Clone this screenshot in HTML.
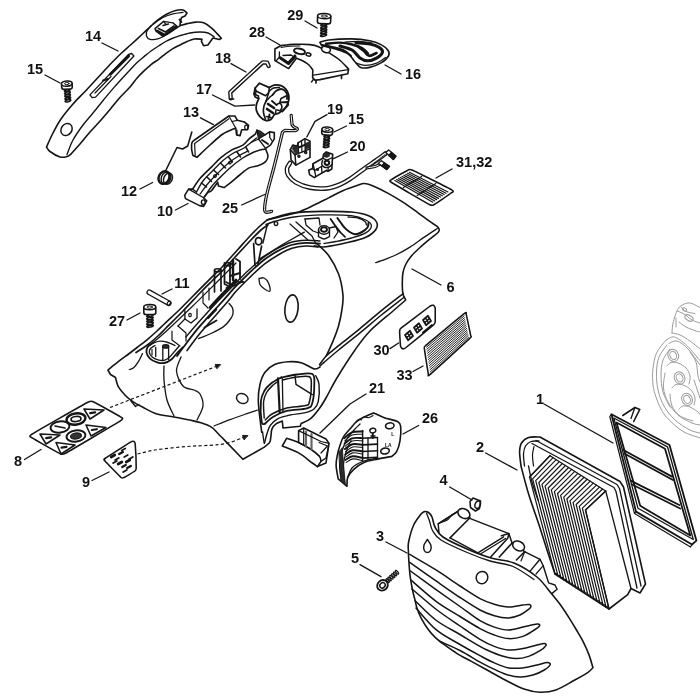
<!DOCTYPE html>
<html><head><meta charset="utf-8"><title>Parts diagram</title>
<style>
html,body{margin:0;padding:0;background:#fff;}
body{width:700px;height:700px;overflow:hidden;}
svg{display:block;will-change:transform;-webkit-font-smoothing:antialiased;}
svg text{font-family:"Liberation Sans",sans-serif;font-weight:bold;font-size:14.5px;fill:#111;stroke:none;}
</style></head><body>
<svg width="700" height="700" viewBox="0 0 700 700" fill="none" stroke="#151515" stroke-width="1.6" stroke-linecap="round" stroke-linejoin="round">
<rect x="0" y="0" width="700" height="700" fill="#fff" stroke="none"/>
<g stroke="#9c9c9c" stroke-width="1">
<path d="M674.3,318C674.75,316.83 675.93,313 677,311C678.07,309 678.65,307.35 680.7,306C682.75,304.65 686.25,302.73 689.3,302.9C692.35,303.07 697.22,306.15 699,307C700.78,307.85 699.83,307.83 700,308"/>
<path d="M674.3,318C674,319.33 672.88,323.5 672.5,326C672.12,328.5 672.08,331.83 672,333"/>
<path d="M677,311C678.17,311.5 681.5,312.5 684,314C686.5,315.5 689.33,318.5 692,320C694.67,321.5 698.67,322.5 700,323"/>
<path d="M681,307C681.83,307.75 683.67,310.42 686,311.5C688.33,312.58 693.5,313.17 695,313.5"/>
<ellipse cx="689" cy="318" rx="4.5" ry="2.6" transform="rotate(30 689 318)"/>
<ellipse cx="684.5" cy="309.5" rx="2.2" ry="1.5" transform="rotate(25 684.5 309.5)"/>
<path d="M679,322C680.17,322.83 683.17,325.5 686,327C688.83,328.5 693.67,330.17 696,331C698.33,331.83 699.33,331.83 700,332"/>
<path d="M672,333C673.33,333.33 677,333.67 680,335C683,336.33 686.67,338.67 690,341C693.33,343.33 698.33,347.67 700,349"/>
<path d="M676,318L676,327"/>
<path d="M665.7,340.4C664.17,342.5 658.63,348.18 656.5,353C654.37,357.82 653.48,363.97 652.9,369.3C652.32,374.63 652.48,380.38 653,385C653.52,389.62 654.67,393 656,397C657.33,401 659.02,405.4 661,409C662.98,412.6 664.25,414.87 667.9,418.6C671.55,422.33 677.55,428.18 682.9,431.4C688.25,434.62 697.15,436.82 700,437.9"/>
<path d="M665.7,340.4C667.13,339.83 670.75,336.12 674.3,337C677.85,337.88 682.72,341.75 687,345.7C691.28,349.65 697.83,358.2 700,360.7"/>
<path d="M669,343.5C670.33,343.08 673.83,340.08 677,341C680.17,341.92 684.17,345 688,349C691.83,353 698,362.33 700,365"/>
<path d="M667,345C665.67,347 660.75,352.5 659,357C657.25,361.5 656.67,366.5 656.5,372C656.33,377.5 656.75,384.33 658,390C659.25,395.67 661.17,401 664,406C666.83,411 670.67,416 675,420C679.33,424 685.83,427.83 690,430C694.17,432.17 698.33,432.5 700,433"/>
<path d="M670,349C668.83,350.83 664.5,355.67 663,360C661.5,364.33 661,369.67 661,375C661,380.33 661.5,386.67 663,392C664.5,397.33 668.83,404.5 670,407"/>
<path d="M667,366C667.67,365.42 669.17,363 671,362.5C672.83,362 675.5,362.08 678,363C680.5,363.92 684,365.83 686,368C688,370.17 689.5,373.33 690,376C690.5,378.67 689.17,382.67 689,384"/>
<path d="M665,373C664.75,375.5 663,383.17 663.5,388C664,392.83 665.58,397.5 668,402C670.42,406.5 674,411.5 678,415C682,418.5 688.33,421.33 692,423C695.67,424.67 698.67,424.67 700,425"/>
<path d="M672,388C672.67,387.42 674.17,385 676,384.5C677.83,384 680.5,384.08 683,385C685.5,385.92 689,387.83 691,390C693,392.17 694.5,395.5 695,398C695.5,400.5 694.17,403.83 694,405"/>
<path d="M670,394C670.33,396 670.33,402.33 672,406C673.67,409.67 676.5,413.5 680,416C683.5,418.5 690.83,420.17 693,421"/>
<path d="M679,409C679.67,408.5 681.17,406.33 683,406C684.83,405.67 687.5,406 690,407C692.5,408 696.33,410.67 698,412C699.67,413.33 699.67,414.5 700,415"/>
<path d="M690,352C691,353.67 694.67,358 696,362C697.33,366 697.33,372.67 698,376C698.67,379.33 699.67,381 700,382"/>
<path d="M694,380C694.67,382 697,389 698,392C699,395 699.67,397 700,398"/>
<ellipse cx="673.2" cy="355.4" rx="5.2" ry="6.3" transform="rotate(-25 673.2 355.4)"/>
<ellipse cx="673.2" cy="355.4" rx="3.2" ry="4.2" transform="rotate(-25 673.2 355.4)"/>
<ellipse cx="679.6" cy="377.9" rx="5.2" ry="6.3" transform="rotate(-25 679.6 377.9)"/>
<ellipse cx="679.6" cy="377.9" rx="3.2" ry="4.2" transform="rotate(-25 679.6 377.9)"/>
<ellipse cx="687" cy="399.3" rx="5.2" ry="6.3" transform="rotate(-25 687 399.3)"/>
<ellipse cx="687" cy="399.3" rx="3.2" ry="4.2" transform="rotate(-25 687 399.3)"/>
</g>
<path d="M46.5,147C47.58,144.67 50.58,137.67 53,133C55.42,128.33 57.67,123.83 61,119C64.33,114.17 68.83,108.75 73,104C77.17,99.25 81.75,95 86,90.5C90.25,86 94.5,81.33 98.5,77C102.5,72.67 106.25,68.42 110,64.5C113.75,60.58 117.58,56.75 121,53.5C124.42,50.25 126.83,48.33 130.5,45C134.17,41.67 139.58,36.67 143,33.5C146.42,30.33 148.4,28.33 151,26C153.6,23.67 155.93,21.5 158.6,19.5C161.27,17.5 164.15,15.5 167,14C169.85,12.5 173.03,11.17 175.7,10.5C178.37,9.83 181.12,9.58 183,10C184.88,10.42 186.33,12.5 187,13L187,13L185,16L181.5,17.5L180.5,21L180,25.7L180,25.7C181.18,25.35 184.48,24.2 187.1,23.6C189.72,23 192.83,22.22 195.7,22.1C198.57,21.98 201.68,21.93 204.3,22.9C206.92,23.87 209.27,26.12 211.4,27.9C213.53,29.68 215.43,31.87 217.1,33.6C218.77,35.33 220.68,37.52 221.4,38.3L221.4,38.3L219.3,39.5L212.9,38L212.9,38L207.9,45L203.6,45.7L201.4,41.4L202,39.3L202,39.3C200.72,39.25 196.8,38.63 194.3,39C191.8,39.37 189.38,40.5 187,41.5C184.62,42.5 182.35,43.82 180,45C177.65,46.18 175.28,47.17 172.9,48.6C170.52,50.03 168.08,51.82 165.7,53.6C163.32,55.38 160.98,57.52 158.6,59.3C156.22,61.08 153.78,62.4 151.4,64.3C149.02,66.2 146.68,68.42 144.3,70.7C141.92,72.98 139.48,75.28 137.1,78C134.72,80.72 132.93,83.67 130,87C127.07,90.33 122.83,94.25 119.5,98C116.17,101.75 113.08,105.83 110,109.5C106.92,113.17 104.33,116.25 101,120C97.67,123.75 93.5,128 90,132C86.5,136 83.17,140.33 80,144C76.83,147.67 72.5,152.33 71,154L71,154C70.33,154.42 68.83,156 67,156.5C65.17,157 62.83,157.83 60,157C57.17,156.17 52.25,153.17 50,151.5C47.75,149.83 47.08,147.75 46.5,147Z" fill="#fff"/>
<path d="M67,154.5C68,152.08 70.33,144.92 73,140C75.67,135.08 79.67,129.5 83,125C86.33,120.5 89.58,117.17 93,113C96.42,108.83 99.95,104.32 103.5,100C107.05,95.68 110.05,91.93 114.3,87.1C118.55,82.27 125.2,75.1 129,71C132.8,66.9 134.55,64.93 137.1,62.5C139.65,60.07 141.92,58.37 144.3,56.4C146.68,54.43 149.02,52.43 151.4,50.7C153.78,48.97 156.22,47.53 158.6,46C160.98,44.47 163.47,42.75 165.7,41.5C167.93,40.25 169.62,39.47 172,38.5C174.38,37.53 177,36.62 180,35.7C183,34.78 186.67,33.62 190,33C193.33,32.38 197,32 200,32C203,32 205.62,32.17 208,33C210.38,33.83 213.25,36.33 214.3,37" stroke-width="1.38"/>
<path d="M151.4,25.5C150.68,26.37 147.93,29 147.1,30.7C146.27,32.4 145.92,34.27 146.4,35.7C146.88,37.13 147.97,38.82 150,39.3C152.03,39.78 155.75,39.43 158.6,38.6C161.45,37.77 164.25,35.97 167.1,34.3C169.95,32.63 173.55,30.03 175.7,28.6C177.85,27.17 179.28,26.18 180,25.7" stroke-width="1.38"/>
<path d="M153,24C154.67,22.92 159.68,19.2 163,17.5C166.32,15.8 169.57,14.67 172.9,13.8C176.23,12.93 181.32,12.55 183,12.3" stroke-width="1.32"/>
<path d="M155,28.6L163.6,21.4L172.9,22.9L177.1,26.4L165.7,34.3L162.9,36.4L155.7,30.7Z" fill="#fff" stroke-width="1.44"/>
<path d="M157,31L164.5,35L176,27" stroke-width="2.64"/>
<path d="M158.5,28.5L165.5,32L174,26" stroke-width="1.68"/>
<path d="M163,25.5L168.5,24" stroke-width="1.44"/>
<path d="M163.6,21.4L165.7,24" stroke-width="1.2"/>
<path d="M179.5,19.5L181.4,22" stroke-width="1.92"/>
<path d="M89.9,94.9L128.7,54.3L131.6,53.5L133.9,56L95.6,97.1L92.1,97.7Z" stroke-width="1.32"/>
<path d="M110.4,74.3L128.7,56" stroke-width="2.88"/>
<path d="M95,93L111,76.5" stroke-width="1.2"/>
<path d="M103,80.5L108,79" stroke-width="1.92"/>
<ellipse cx="66.5" cy="129.5" rx="5.3" ry="6.4" stroke-width="1.5" transform="rotate(35 66.5 129.5)"/>
<g transform="rotate(-4 66.6 81)">
<ellipse cx="66.6" cy="90.4" rx="2.9" ry="1" fill="#fff" stroke-width="1.62" transform="rotate(-12 66.6 90.4)"/>
<ellipse cx="66.6" cy="93" rx="2.9" ry="1" fill="#fff" stroke-width="1.62" transform="rotate(-12 66.6 93)"/>
<ellipse cx="66.6" cy="95.6" rx="2.9" ry="1" fill="#fff" stroke-width="1.62" transform="rotate(-12 66.6 95.6)"/>
<ellipse cx="66.6" cy="98.2" rx="2.9" ry="1" fill="#fff" stroke-width="1.62" transform="rotate(-12 66.6 98.2)"/>
<ellipse cx="66.6" cy="100.8" rx="2.9" ry="1" fill="#fff" stroke-width="1.62" transform="rotate(-12 66.6 100.8)"/>
<rect x="61.3" y="82.5" width="10.6" height="6.7" rx="2.2" fill="#fff"/>
<ellipse cx="66.6" cy="83.6" rx="5.3" ry="2.6" fill="#fff"/>
<ellipse cx="66.6" cy="83.6" rx="2.38" ry="1.1" stroke-width="0.96"/>
</g>
<g transform="rotate(4 327.5 127)">
<ellipse cx="327.5" cy="136.2" rx="2.9" ry="1" fill="#fff" stroke-width="1.62" transform="rotate(-12 327.5 136.2)"/>
<ellipse cx="327.5" cy="138.8" rx="2.9" ry="1" fill="#fff" stroke-width="1.62" transform="rotate(-12 327.5 138.8)"/>
<ellipse cx="327.5" cy="141.4" rx="2.9" ry="1" fill="#fff" stroke-width="1.62" transform="rotate(-12 327.5 141.4)"/>
<ellipse cx="327.5" cy="144" rx="2.9" ry="1" fill="#fff" stroke-width="1.62" transform="rotate(-12 327.5 144)"/>
<ellipse cx="327.5" cy="146.6" rx="2.9" ry="1" fill="#fff" stroke-width="1.62" transform="rotate(-12 327.5 146.6)"/>
<rect x="322.1" y="128.5" width="10.8" height="6.5" rx="2.2" fill="#fff"/>
<ellipse cx="327.5" cy="129.6" rx="5.4" ry="2.6" fill="#fff"/>
<ellipse cx="327.5" cy="129.6" rx="2.43" ry="1.1" stroke-width="0.96"/>
</g>
<g transform="rotate(2 324.3 13.5)">
<ellipse cx="324.3" cy="24.9" rx="3.1" ry="1" fill="#fff" stroke-width="1.62" transform="rotate(-12 324.3 24.9)"/>
<ellipse cx="324.3" cy="27.5" rx="3.1" ry="1" fill="#fff" stroke-width="1.62" transform="rotate(-12 324.3 27.5)"/>
<ellipse cx="324.3" cy="30.1" rx="3.1" ry="1" fill="#fff" stroke-width="1.62" transform="rotate(-12 324.3 30.1)"/>
<ellipse cx="324.3" cy="32.7" rx="3.1" ry="1" fill="#fff" stroke-width="1.62" transform="rotate(-12 324.3 32.7)"/>
<ellipse cx="324.3" cy="35.3" rx="3.1" ry="1" fill="#fff" stroke-width="1.62" transform="rotate(-12 324.3 35.3)"/>
<rect x="317.7" y="15" width="13.2" height="8.7" rx="2.2" fill="#fff"/>
<ellipse cx="324.3" cy="16.1" rx="6.6" ry="2.6" fill="#fff"/>
<ellipse cx="324.3" cy="16.1" rx="2.97" ry="1.1" stroke-width="0.96"/>
</g>
<g transform="rotate(-1 149.7 304.5)">
<ellipse cx="149.7" cy="315.7" rx="3.3" ry="1" fill="#fff" stroke-width="1.62" transform="rotate(-12 149.7 315.7)"/>
<ellipse cx="149.7" cy="318.3" rx="3.3" ry="1" fill="#fff" stroke-width="1.62" transform="rotate(-12 149.7 318.3)"/>
<ellipse cx="149.7" cy="320.9" rx="3.3" ry="1" fill="#fff" stroke-width="1.62" transform="rotate(-12 149.7 320.9)"/>
<ellipse cx="149.7" cy="323.5" rx="3.3" ry="1" fill="#fff" stroke-width="1.62" transform="rotate(-12 149.7 323.5)"/>
<ellipse cx="149.7" cy="326.1" rx="3.3" ry="1" fill="#fff" stroke-width="1.62" transform="rotate(-12 149.7 326.1)"/>
<rect x="143.7" y="306" width="12" height="8.5" rx="2.2" fill="#fff"/>
<ellipse cx="149.7" cy="307.1" rx="6" ry="2.6" fill="#fff"/>
<ellipse cx="149.7" cy="307.1" rx="2.7" ry="1.1" stroke-width="0.96"/>
</g>
<path d="M274.9,49L280.6,45.7L280.6,45.7C282.83,45.48 289.1,44.58 294,44.4C298.9,44.22 305.83,44.18 310,44.6C314.17,45.02 315.9,45.57 319,46.9C322.1,48.23 325.27,50.5 328.6,52.6C331.93,54.7 335.67,56.77 339,59.5C342.33,62.23 347,67.42 348.6,69L348.6,69L347.8,73.8L320,79.6L315,80.3L312.6,77.6L312.8,70L312.8,70C312.17,69.17 310.63,66.5 309,65C307.37,63.5 305.07,62.12 303,61C300.93,59.88 297.67,58.75 296.6,58.3L296.6,58L288.6,68.6L274.9,60.6Z" fill="#fff"/>
<path d="M279.4,52L279.4,57L288,62.5L295,55" stroke-width="1.32"/>
<path d="M279.4,57L276.5,60.5" stroke-width="1.2"/>
<path d="M280.5,58L288.5,63.5L295,56.5" stroke-width="3.12"/>
<path d="M283,55.5L291,55L294,57" stroke-width="1.44"/>
<path d="M313.5,75.2L348.2,69.6" stroke-width="1.32"/>
<path d="M316,80L316,83" stroke-width="1.68"/>
<path d="M341.5,75.3L341.5,78.5" stroke-width="1.68"/>
<path d="M313.7,79L311.5,82" stroke-width="1.32"/>
<ellipse cx="299.5" cy="51.3" rx="5.5" ry="2.6" stroke-width="1.92" transform="rotate(12 299.5 51.3)"/>
<ellipse cx="308.5" cy="54.5" rx="2.4" ry="1.6" stroke-width="1.56" transform="rotate(12 308.5 54.5)"/>
<path d="M281,47.5C282.5,47.28 286.83,46.45 290,46.2C293.17,45.95 298.33,46.03 300,46" stroke-width="1.08"/>
<ellipse cx="326" cy="49.5" rx="4.5" ry="3" fill="#fff" transform="rotate(15 326 49.5)"/>
<path d="M319.9,42.3C321.35,41.92 323.35,40.57 328.6,40C333.85,39.43 344.55,38.78 351.4,38.9C358.25,39.02 364.77,39.75 369.7,40.7C374.63,41.65 377.95,43 381,44.6C384.05,46.2 386.75,48.4 388,50.3C389.25,52.2 389.67,53.9 388.5,56C387.33,58.1 384.13,61 381,62.9C377.87,64.8 373.1,66.65 369.7,67.4C366.3,68.15 363.07,68.35 360.6,67.4C358.13,66.45 357,63.98 354.9,61.7C352.8,59.42 351.25,55.82 348,53.7C344.75,51.58 339.78,50.33 335.4,49C331.02,47.67 323.98,46.25 321.7,45.7Z" fill="#fff"/>
<path d="M340,46C342,46.67 348.67,48 352,50C355.33,52 357.43,56.2 360,58C362.57,59.8 364.57,60.83 367.4,60.8C370.23,60.77 374.48,59.27 377,57.8C379.52,56.33 382.17,53.75 382.5,52C382.83,50.25 381.08,48.63 379,47.3C376.92,45.97 373.83,44.75 370,44C366.17,43.25 358.33,43 356,42.8" stroke-width="3.12"/>
<path d="M326,43.8C328.33,43.6 335.67,42.48 340,42.6C344.33,42.72 348.33,43.6 352,44.5C355.67,45.4 359.33,46.5 362,48C364.67,49.5 367,52.58 368,53.5" stroke-width="2.4"/>
<path d="M358,46.5C359,47.25 362.17,49.45 364,51C365.83,52.55 366.92,55.47 369,55.8C371.08,56.13 375.25,53.47 376.5,53" stroke-width="2.64"/>
<path d="M356,63C357.5,63.38 361.67,65.25 365,65.3C368.33,65.35 372.58,64.6 376,63.3C379.42,62 383.92,58.47 385.5,57.5" stroke-width="1.32"/>
<path d="M322,45C323.5,45.28 327.5,45.87 331,46.7C334.5,47.53 339.67,48.45 343,50C346.33,51.55 349.67,55 351,56" stroke-width="2.16"/>
<path d="M345,42C347.5,41.92 355.5,41.33 360,41.5C364.5,41.67 370,42.75 372,43" stroke-width="1.2"/>
<path d="M230.7,98.3L230.3,92.3L262.9,62.3L267.1,62.6L268.6,66" stroke-width="4.32"/>
<path d="M230.7,98.3L230.3,92.3L262.9,62.3L267.1,62.6L268.6,66" stroke-width="1.56" stroke="#fff"/>
<path d="M229.5,99L233.8,99" stroke-width="1.44"/>
<path d="M269.4,87.6C270.17,87.2 272.18,85.57 274,85.2C275.82,84.83 278.33,84.75 280.3,85.4C282.27,86.05 284.42,87.57 285.8,89.1C287.18,90.63 288.17,92.5 288.6,94.6C289.03,96.7 289,99.47 288.4,101.7C287.8,103.93 286.57,106.12 285,108C283.43,109.88 280.75,111.95 279,113C277.25,114.05 275.25,114.08 274.5,114.3L274.5,114.3C273.9,115.15 272.42,118.38 270.9,119.4C269.38,120.42 267.23,120.87 265.4,120.4C263.57,119.93 261.37,118.15 259.9,116.6C258.43,115.05 257.18,113.05 256.6,111.1C256.02,109.15 256.05,106.98 256.4,104.9C256.75,102.82 258.32,99.65 258.7,98.6L258.7,98.6L255.2,97L254,93.9L255.2,88L259.5,83.2L269.4,87.6Z" fill="#fff" stroke-width="1.8"/>
<path d="M272.5,95C273.15,94.28 274.83,91.68 276.4,90.7C277.97,89.72 280.2,88.72 281.9,89.1C283.6,89.48 285.75,91.35 286.6,93C287.45,94.65 286.93,98 287,99" stroke-width="1.8"/>
<path d="M269,91.5C269.75,90.92 271.75,88.67 273.5,88C275.25,87.33 278.5,87.58 279.5,87.5" stroke-width="1.44"/>
<path d="M255.2,88L256,91L265.5,95.8L268.6,92.7L269.4,87.6" stroke-width="1.56"/>
<path d="M268.6,92.7L266.2,100.9" stroke-width="1.56"/>
<path d="M254,93.9L258.5,96L258.7,98.6" stroke-width="1.44"/>
<path d="M256,91L255.5,94.5" stroke-width="1.44"/>
<path d="M266.2,100.9C265.82,101.82 264.35,104.43 263.9,106.4C263.45,108.37 263.25,110.6 263.5,112.7C263.75,114.8 265.08,117.95 265.4,119" stroke-width="1.68"/>
<path d="M266.2,100.9C266.83,100.25 268.95,97.98 270,97C271.05,96.02 272.08,95.33 272.5,95" stroke-width="1.56"/>
<path d="M268,104L274,108" stroke-width="2.64"/>
<path d="M267,109L273,113" stroke-width="2.64"/>
<path d="M269.5,114.5L268.5,119" stroke-width="1.92"/>
<path d="M272,101L276.4,104.9" stroke-width="1.92"/>
<path d="M266.5,116.5L271,117.5" stroke-width="1.68"/>
<path d="M276.4,104.9C276.93,104.63 278.68,103.05 279.6,103.3C280.52,103.55 281.78,105.22 281.9,106.4C282.02,107.58 281.03,109.8 280.3,110.4C279.57,111 277.97,110.07 277.5,110" stroke-width="1.68"/>
<path d="M280.5,102.3L287.8,102L288.2,104.9L282.5,111.5" stroke-width="1.8"/>
<path d="M279.6,103.3L281,98.5L286,96" stroke-width="1.56"/>
<path d="M276,109.5L275.6,113" stroke-width="1.56"/>
<path d="M192.9,155.4C192.68,154.33 191.75,151.13 191.6,149C191.45,146.87 191.52,144.1 192,142.6C192.48,141.1 194.08,140.43 194.5,140L194.5,140L228.9,116L234.9,116L237.4,120.3L244.3,122L248.6,125.4L247.7,129.7L241.7,129.7L240,135.7L236.6,134.9L235.7,128L235.7,128C233.57,129 227.18,131.17 222.9,134C218.62,136.83 214.32,141.12 210,145C205.68,148.88 199.17,155.25 197,157.3L197,157.3L192.9,155.4Z" fill="#fff"/>
<path d="M195.2,155.5L194.6,143.4L228.9,118.8" stroke-width="1.2"/>
<path d="M228.9,116L232,121.5L237.4,120.3" stroke-width="1.2"/>
<path d="M232,121.5L235.7,128" stroke-width="1.2"/>
<ellipse cx="246.3" cy="127.3" rx="1.6" ry="2.2" stroke-width="1.2"/>
<path d="M237,134.5L237,130" stroke-width="1.2"/>
<path d="M191.8,132L187.7,146L182.6,149L177,147.5L165.5,171" stroke-width="1.56"/>
<ellipse cx="164" cy="177.5" rx="5.2" ry="6.6" stroke-width="2.4" transform="rotate(25 164 177.5)"/>
<ellipse cx="166" cy="178" rx="4.6" ry="6.2" stroke-width="1.44" transform="rotate(25 166 178)"/>
<ellipse cx="168" cy="178.6" rx="4.2" ry="5.8" stroke-width="1.44" transform="rotate(25 168 178.6)"/>
<path d="M188.6,189.1L184.7,195.4L185.5,198.6L199.6,205.6L203.6,206.4L206.7,200.9L203.6,197.8L203.6,197.8C204.33,196.92 206.7,193.68 208,192.5C209.3,191.32 209.78,192.43 211.4,190.7C213.02,188.97 216.65,183.53 217.7,182.1L217.7,182.1L218.5,186L224,187.6L224,187.6C225.05,186.82 227.68,185 230.3,182.9C232.92,180.8 236.57,177.5 239.7,175C242.83,172.5 245.95,169.47 249.1,167.9C252.25,166.33 255.85,166.65 258.6,165.6C261.35,164.55 264.03,163.18 265.6,161.6C267.17,160.02 268,158.18 268,156.1C268,154.02 266,150.27 265.6,149.1L265.6,148.3L270.4,145.1L274.3,138.9L274.3,132.6L269.6,131.8L264.9,134.9L260.9,131.8L257,130.2L255.4,134.1L255.4,134.1C254.35,134.9 251.18,137.07 249.1,138.9C247.02,140.73 245.77,143.27 242.9,145.1C240.03,146.93 235.57,147.8 231.9,149.9C228.23,152 224.32,154.83 220.9,157.7C217.48,160.57 214.82,163.7 211.4,167.1C207.98,170.5 203.53,174.43 200.4,178.1C197.27,181.77 193.9,187.27 192.6,189.1Z" fill="#fff"/>
<path d="M188.6,189.1L203.6,197.8" stroke-width="1.32"/>
<path d="M192.6,189.1L196.5,192" stroke-width="1.32"/>
<ellipse cx="203.3" cy="202.2" rx="1.9" ry="2.3" stroke-width="1.44"/>
<path d="M196.5,192C197.58,190.17 200.17,184.67 203,181C205.83,177.33 210.17,173.42 213.5,170C216.83,166.58 219.67,163.33 223,160.5C226.33,157.67 230,155.08 233.5,153C237,150.92 241.08,149.75 244,148C246.92,146.25 248.92,144.17 251,142.5C253.08,140.83 255.58,138.75 256.5,138" stroke-width="1.32"/>
<path d="M205,196C206.17,194.33 209.33,189.25 212,186C214.67,182.75 217.83,179.67 221,176.5C224.17,173.33 227.5,170 231,167C234.5,164 238.5,160.83 242,158.5C245.5,156.17 249,154.42 252,153C255,151.58 257.73,150.65 260,150C262.27,149.35 264.67,149.25 265.6,149.1" stroke-width="1.44"/>
<path d="M200,194C201.33,192.25 205,187 208,183.5C211,180 214.67,176.33 218,173C221.33,169.67 224.58,166.33 228,163.5C231.42,160.67 235.17,158.08 238.5,156C241.83,153.92 246.42,151.83 248,151" stroke-width="1.2"/>
<path d="M201.5,183L206.5,187" stroke-width="1.56"/>
<path d="M207,177L211.5,181.5" stroke-width="1.56"/>
<path d="M213.5,170L218.5,174.5" stroke-width="1.56"/>
<path d="M220.5,163L225.5,168" stroke-width="1.56"/>
<path d="M228.5,157L232.5,162" stroke-width="1.56"/>
<path d="M237,152L240.5,157" stroke-width="1.56"/>
<path d="M246,147.5L248.5,152" stroke-width="1.56"/>
<ellipse cx="215" cy="176" rx="1.6" ry="1.2" stroke-width="1.2" transform="rotate(-40 215 176)"/>
<ellipse cx="230" cy="162.5" rx="1.6" ry="1.2" stroke-width="1.2" transform="rotate(-40 230 162.5)"/>
<path d="M257,130.2L258.5,139L264.9,134.9" stroke-width="1.32"/>
<path d="M258.5,139L265.6,148.3" stroke-width="1.32"/>
<path d="M251,142.5L258.5,139" stroke-width="1.2"/>
<path d="M257.3,130.8L259.2,138.6L263.8,135Z" fill="#222" stroke-width="0.6"/>
<path d="M269.6,131.8L269.8,137.5L272.5,141.5" stroke-width="1.32"/>
<path d="M262,140L268,144" stroke-width="1.92"/>
<path d="M291.2,115.4L292,124.5L292,124.5C292.33,124.92 293.12,126.3 294,127C294.88,127.7 296.97,128.12 297.3,128.7C297.63,129.28 297.05,130.18 296,130.5C294.95,130.82 291.83,130.58 291,130.6L291,130.6L285,130.3L282.5,132L282.5,132C281.17,137.5 277.08,154.77 274.5,165C271.92,175.23 268.65,186.15 267,193.4C265.35,200.65 264.73,205.37 264.6,208.5C264.47,211.63 265.03,211.73 266.2,212.2C267.37,212.67 270.7,211.45 271.6,211.3" stroke-width="3.24"/>
<path d="M291.2,115.4L292,124.5L292,124.5C292.33,124.92 293.12,126.3 294,127C294.88,127.7 296.97,128.12 297.3,128.7C297.63,129.28 297.05,130.18 296,130.5C294.95,130.82 291.83,130.58 291,130.6L291,130.6L285,130.3L282.5,132L282.5,132C281.17,137.5 277.08,154.77 274.5,165C271.92,175.23 268.65,186.15 267,193.4C265.35,200.65 264.73,205.37 264.6,208.5C264.47,211.63 265.03,211.73 266.2,212.2C267.37,212.67 270.7,211.45 271.6,211.3" stroke-width="0.96" stroke="#fff"/>
<path d="M290.3,149.7L292.9,145L297.3,146.2L298,142.9L304.9,138.6L310,141.1L310,157.4L295.9,165.1L291.1,160Z" fill="#fff"/>
<path d="M290.3,149.7L295,154.9L310,148.9" stroke-width="1.44"/>
<path d="M295,154.9L295.9,165.1" stroke-width="1.44"/>
<path d="M298,142.9L298.5,153.3" stroke-width="1.44"/>
<path d="M304.9,138.6L305.3,150.6" stroke-width="1.44"/>
<path d="M301.5,141L302,152" stroke-width="1.2"/>
<path d="M292.2,148.6L294.2,145.6L297.2,146.6L297.8,153.2L295.3,154Z" fill="#2a2a2a" stroke-width="0.6"/>
<path d="M305.8,143.2L309.3,141.8L309.5,147.8L306,149.3Z" fill="#2a2a2a" stroke-width="0.6"/>
<path d="M298.6,147.5L304.8,144.8" stroke-width="1.92"/>
<ellipse cx="298.9" cy="156.3" rx="1" ry="1" stroke-width="1.56"/>
<ellipse cx="305.7" cy="152.5" rx="1" ry="1" stroke-width="1.56"/>
<path d="M308.7,170.3L309.6,174.6L314.3,177.6L315.8,176.6L326.7,170.3L328,171.3L331.8,169L332.7,154.2L326.3,151.9L323.7,154L322.8,158.3L313,163.8L312.6,168.6Z" fill="#fff"/>
<path d="M313,163.8L314.6,170.5L315.8,176.6" stroke-width="1.32"/>
<path d="M312.6,168.6L314.6,170.5" stroke-width="1.32"/>
<path d="M322.8,158.3L327,160.2L332.5,157.5" stroke-width="1.32"/>
<path d="M314.6,170.5L321.5,166.5" stroke-width="1.32"/>
<path d="M321.5,166.5L322,172.8" stroke-width="1.32"/>
<path d="M322.5,160.5C322.38,161.17 321.47,163.38 321.8,164.5C322.13,165.62 323.3,166.78 324.5,167.2C325.7,167.62 327.75,167.45 329,167C330.25,166.55 331.5,164.92 332,164.5" stroke-width="1.44"/>
<ellipse cx="326.9" cy="162.8" rx="2.3" ry="2.1" stroke-width="2.04"/>
<path d="M323.9,154.2L326.3,152.3L329.8,153.6L329.5,156.2L326.8,157.6L323.5,156.6Z" fill="#2a2a2a" stroke-width="0.6"/>
<ellipse cx="317.5" cy="169.5" rx="0.9" ry="0.9" stroke-width="1.32"/>
<path d="M328,171.3L328.2,168" stroke-width="1.2"/>
<path d="M290,163C289.5,163.92 287.25,166.42 287,168.5C286.75,170.58 287,173.17 288.5,175.5C290,177.83 292.42,180.48 296,182.5C299.58,184.52 304.8,186.63 310,187.6C315.2,188.57 322.2,188.82 327.2,188.3C332.2,187.78 336.2,186.05 340,184.5C343.8,182.95 345.72,181.82 350,179C354.28,176.18 361.37,170.68 365.7,167.6C370.03,164.52 372.7,162.85 376,160.5C379.3,158.15 383.92,154.67 385.5,153.5" stroke-width="4.68"/>
<path d="M290,163C289.5,163.92 287.25,166.42 287,168.5C286.75,170.58 287,173.17 288.5,175.5C290,177.83 292.42,180.48 296,182.5C299.58,184.52 304.8,186.63 310,187.6C315.2,188.57 322.2,188.82 327.2,188.3C332.2,187.78 336.2,186.05 340,184.5C343.8,182.95 345.72,181.82 350,179C354.28,176.18 361.37,170.68 365.7,167.6C370.03,164.52 372.7,162.85 376,160.5C379.3,158.15 383.92,154.67 385.5,153.5" stroke-width="2.04" stroke="#fff"/>
<path d="M367,167.8C368.33,167.58 372.67,167.2 375,166.5C377.33,165.8 380,164.08 381,163.6" stroke-width="3.12"/>
<path d="M367,167.8C368.33,167.58 372.67,167.2 375,166.5C377.33,165.8 380,164.08 381,163.6" stroke-width="0.96" stroke="#fff"/>
<path d="M366,168.5C367.67,167.33 372.83,163.83 376,161.5C379.17,159.17 383.5,155.67 385,154.5" stroke-width="0.96"/>
<path d="M385.8,152.6L388.6,150L396,156L393.2,159.5Z" fill="#fff" stroke-width="1.32"/>
<path d="M389.33,155.05L393.62,158.97" stroke-width="1.8"/>
<path d="M390.31,154.01L394.6,157.75" stroke-width="1.8"/>
<path d="M391.29,152.97L395.58,156.53" stroke-width="1.8"/>
<path d="M388.91,155.5L391.71,152.52" stroke-width="1.32"/>
<path d="M378.4,163.4L381.1,160.6L389.5,166.2L386.7,169.6Z" fill="#fff" stroke-width="1.32"/>
<path d="M382.3,165.55L387.12,169.09" stroke-width="1.8"/>
<path d="M383.26,164.48L388.1,167.9" stroke-width="1.8"/>
<path d="M384.22,163.41L389.08,166.71" stroke-width="1.8"/>
<path d="M381.89,166L384.63,162.95" stroke-width="1.32"/>
<path d="M107.9,370C109.68,368.57 115.15,364.07 118.6,361.4C122.05,358.73 125.52,356.32 128.6,354C131.68,351.68 134.03,349.87 137.1,347.5C140.17,345.13 143.68,342.55 147,339.8C150.32,337.05 154.12,333.63 157,331C159.88,328.37 160.22,327.88 164.3,324C168.38,320.12 175.78,313.3 181.5,307.7C187.22,302.1 193.75,295.28 198.6,290.4C203.45,285.52 206.8,282.17 210.6,278.4C214.4,274.63 217,272.45 221.4,267.8C225.8,263.15 232.23,255.8 237,250.5C241.77,245.2 246.17,240.08 250,236C253.83,231.92 257.17,228.67 260,226C262.83,223.33 265.83,221 267,220L267,220C270,219.25 279.5,216.93 285,215.5C290.5,214.07 295.12,213.15 300,211.4C304.88,209.65 309.53,207.25 314.3,205C319.07,202.75 323.83,200.28 328.6,197.9C333.37,195.52 338.15,192.77 342.9,190.7C347.65,188.63 353.53,186.7 357.1,185.5C360.67,184.3 361.43,183.35 364.3,183.5C367.17,183.65 370.25,184.72 374.3,186.4C378.35,188.08 383.83,190.98 388.6,193.6C393.37,196.22 398.15,199.02 402.9,202.1C407.65,205.18 412.82,209 417.1,212.1C421.38,215.2 425.27,218.32 428.6,220.7C431.93,223.08 435.32,224.93 437.1,226.4C438.88,227.87 438.93,228.98 439.3,229.5L439.3,229.5C439.08,230 439.32,231.12 438,232.5C436.68,233.88 434.4,235.3 431.4,237.8C428.4,240.3 423.33,244.47 420,247.5C416.67,250.53 413.78,253.17 411.4,256C409.02,258.83 407.12,261.67 405.7,264.5C404.28,267.33 403.47,269.75 402.9,273C402.33,276.25 402.28,280.5 402.3,284C402.32,287.5 402.43,291.33 403,294C403.57,296.67 405.25,299 405.7,300L405.7,300C403.58,301.83 398.95,305.83 393,311C387.05,316.17 376.33,324.5 370,331C363.67,337.5 360.62,342 355,350C349.38,358 341.13,371 336.3,379C331.47,387 328.88,393 326,398C323.12,403 321.57,405.57 319,409C316.43,412.43 313.6,416.15 310.6,418.6C307.6,421.05 302.6,422.85 301,423.7L301,423.7L300.3,426.3L283,428L282.3,421L282.3,421C281.3,421.45 278.02,422.38 276.3,423.7C274.58,425.02 272.88,426.9 272,428.9C271.12,430.9 271.28,433.7 271,435.7C270.72,437.7 270.42,440.03 270.3,440.9L270.3,440.9L269.3,443L264.3,447.1L242.9,459.3L225.7,441.4L225.7,441.4C224.42,440.08 220.38,435.88 218,433.5C215.62,431.12 214.23,428.88 211.4,427.1C208.57,425.32 204.4,423.93 201,422.8C197.6,421.67 195.5,421.27 191,420.3C186.5,419.33 179.67,418.05 174,417C168.33,415.95 162.17,415.62 157,414C151.83,412.38 147.33,409.58 143,407.3C138.67,405.02 134.12,402.47 131,400.3C127.88,398.13 126.37,396.5 124.3,394.3C122.23,392.1 119.92,389.25 118.6,387.1C117.28,384.95 116.77,382.35 116.4,381.4L116.4,381.4L115.5,377.5L110.5,374.5L107.9,370Z" fill="#fff"/>
<path d="M131,401L135.5,406.5L139,404.5" stroke-width="1.32"/>
<path d="M136,352.5C138,351.17 144.25,347.33 148,344.5C151.75,341.67 155.5,338.25 158.5,335.5C161.5,332.75 161.92,332.08 166,328C170.08,323.92 177.33,316.83 183,311C188.67,305.17 195.17,298 200,293C204.83,288 208.2,284.75 212,281C215.8,277.25 218.4,275.08 222.8,270.5C227.2,265.92 233.63,258.67 238.4,253.5C243.17,248.33 247.63,243.42 251.4,239.5C255.17,235.58 258.23,232.42 261,230C263.77,227.58 266.83,225.83 268,225" stroke-width="1.68"/>
<path d="M150,345C152.38,343 157.35,339.33 164.3,333C171.25,326.67 183.25,315.17 191.7,307C200.15,298.83 207.62,291.33 215,284C222.38,276.67 232.5,266.5 236,263" stroke-width="1.2"/>
<path d="M267,220C267.73,219.77 266.9,219.78 271.4,218.6C275.9,217.42 285.42,214.1 294,212.9C302.58,211.7 313.33,211.55 322.9,211.4C332.47,211.25 343.78,211.28 351.4,212C359.02,212.72 364.33,213.88 368.6,215.7C372.87,217.52 376.05,220.28 377,222.9C377.95,225.52 376.65,228.78 374.3,231.4C371.95,234.02 368.62,236.45 362.9,238.6C357.18,240.75 346.67,242.9 340,244.3C333.33,245.7 327.18,246.77 322.9,247C318.62,247.23 315.73,245.92 314.3,245.7"/>
<path d="M274,221.5C277.33,220.75 285.85,218.1 294,217C302.15,215.9 313.33,215.12 322.9,214.9C332.47,214.68 344.27,214.85 351.4,215.7C358.53,216.55 362.37,218.33 365.7,220C369.03,221.67 371.4,223.55 371.4,225.7C371.4,227.85 369.03,230.85 365.7,232.9C362.37,234.95 356.35,236.57 351.4,238C346.45,239.43 340.57,240.58 336,241.5C331.43,242.42 326,243.17 324,243.5" stroke-width="1.32"/>
<path d="M337.4,218C338,218.83 339.85,221.43 341,223C342.15,224.57 342.97,225.98 344.3,227.4C345.63,228.82 347.22,230.35 349,231.5C350.78,232.65 352.83,234.22 355,234.3C357.17,234.38 359.92,233.13 362,232C364.08,230.87 366.42,229 367.5,227.5C368.58,226 368.33,223.75 368.5,223" stroke-width="2.04"/>
<path d="M330.6,219C331.17,219.83 332.87,222.4 334,224C335.13,225.6 336.23,227.1 337.4,228.6C338.57,230.1 339.73,231.63 341,233C342.27,234.37 344.33,236.17 345,236.8" stroke-width="1.8"/>
<path d="M348,217C349.67,217.17 355.17,217.25 358,218C360.83,218.75 363.58,220.33 365,221.5C366.42,222.67 366.25,224.42 366.5,225" stroke-width="1.32"/>
<ellipse cx="324" cy="230" rx="5.5" ry="4.2" stroke-width="1.56"/>
<ellipse cx="324" cy="229.6" rx="3" ry="2.2" stroke-width="1.92"/>
<path d="M318.5,230L318.5,236.5" stroke-width="1.32"/>
<path d="M329.5,230L329.5,236.5" stroke-width="1.32"/>
<path d="M318.5,236.5C319.42,236.92 322.17,239 324,239C325.83,239 328.58,236.92 329.5,236.5" stroke-width="1.32"/>
<path d="M305,219L319,218L320,225" stroke-width="1.32"/>
<path d="M305,219L306,225L313,231L318.5,233" stroke-width="1.32"/>
<path d="M329.5,228L336,226.5L338,232L334,238" stroke-width="1.32"/>
<path d="M296,222L312,236L316,244" stroke-width="1.32"/>
<path d="M290,224L308,240" stroke-width="1.2"/>
<path d="M320,243.6C317.62,243.48 310.47,242.67 305.7,242.9C300.93,243.13 296.17,243.58 291.4,245C286.63,246.42 281.85,248.78 277.1,251.4C272.35,254.02 267.65,257 262.9,260.7C258.15,264.4 253.37,269.07 248.6,273.6C243.83,278.13 238.83,283.08 234.3,287.9C229.77,292.72 227.35,295.87 221.4,302.5C215.45,309.13 205.07,320.07 198.6,327.7C192.13,335.33 186.2,343.58 182.6,348.3C179,353.02 177.93,354.72 177,356" stroke-width="1.8"/>
<path d="M318,247C315.95,246.83 310.03,245.78 305.7,246C301.37,246.22 296.45,246.88 292,248.3C287.55,249.72 283.5,251.93 279,254.5C274.5,257.07 269.75,260 265,263.7C260.25,267.4 255.25,272.18 250.5,276.7C245.75,281.22 240.58,286.33 236.5,290.8C232.42,295.27 231.93,296.58 226,303.5C220.07,310.42 207.4,324.45 200.9,332.3C194.4,340.15 189.32,347.55 187,350.6" stroke-width="1.56"/>
<path d="M320,241C317.62,240.88 310.47,240.1 305.7,240.3C300.93,240.5 296.17,240.82 291.4,242.2C286.63,243.58 281.85,245.98 277.1,248.6C272.35,251.22 267.65,254.28 262.9,257.9C258.15,261.52 253.37,265.87 248.6,270.3C243.83,274.73 239.23,279.55 234.3,284.5C229.37,289.45 225.22,293.42 219,300C212.78,306.58 202.5,317.83 197,324C191.5,330.17 187.83,334.83 186,337" stroke-width="1.44"/>
<path d="M236,280C233.67,282.42 226.33,289.92 222,294.5C217.67,299.08 212,305.33 210,307.5" stroke-width="2.64"/>
<path d="M208,318L216,309.5" stroke-width="2.4"/>
<path d="M317,243.8C318.93,245.75 325,250.47 328.6,255.5C332.2,260.53 336.22,267.53 338.6,274C340.98,280.47 342.32,288.53 342.9,294.3C343.48,300.07 342.82,303.37 342.1,308.6C341.38,313.83 340.13,320.23 338.6,325.7C337.07,331.17 334.93,336.4 332.9,341.4C330.87,346.4 327.48,353.32 326.4,355.7"/>
<path d="M403.2,293.6C399.57,296.45 388.6,304.87 381.4,310.7C374.2,316.53 367.13,322.77 360,328.6C352.87,334.43 344.2,341.18 338.6,345.7C333,350.22 329.57,352.55 326.4,355.7C323.23,358.85 320.73,363.12 319.6,364.6"/>
<path d="M404,297.3C400.23,300.25 388.73,309.07 381.4,315C374.07,320.93 367.13,327.07 360,332.9C352.87,338.73 344.55,345.13 338.6,350C332.65,354.87 327.4,359.43 324.3,362.1C321.2,364.77 320.72,365.35 320,366" stroke-width="1.44"/>
<path d="M437.3,228.5C435.13,229.93 428.85,234 424.3,237.1C419.75,240.2 414.77,244.12 410,247.1C405.23,250.08 400.47,252.73 395.7,255C390.93,257.27 384.73,259.43 381.4,260.7C378.07,261.97 376.65,262.28 375.7,262.6" stroke-width="1.32"/>
<ellipse cx="291.5" cy="308.5" rx="6.6" ry="13.7" transform="rotate(6 291.5 308.5)"/>
<path d="M259,278.5C259.83,278.42 262.42,277.25 264,278C265.58,278.75 267.5,280.83 268.5,283C269.5,285.17 270.67,290 270,291C269.33,292 266.17,290.08 264.5,289C262.83,287.92 260.92,286.25 260,284.5C259.08,282.75 259.17,279.5 259,278.5" stroke-width="1.32"/>
<path d="M229,303.5C229.58,304.25 231.85,306.2 232.5,308C233.15,309.8 233.48,312.13 232.9,314.3C232.32,316.47 230.67,318.87 229,321C227.33,323.13 225.9,325.02 222.9,327.1C219.9,329.18 215.05,331.58 211,333.5C206.95,335.42 200.67,337.75 198.6,338.6" stroke-width="1.32"/>
<path d="M204.5,327.5L216.5,320.5" stroke-width="1.92"/>
<path d="M153,343C152.17,343.58 149.1,344.98 148,346.5C146.9,348.02 146.07,350.08 146.4,352.1C146.73,354.12 148.22,356.9 150,358.6C151.78,360.3 154.72,361.57 157.1,362.3C159.48,363.03 161.92,363.47 164.3,363C166.68,362.53 169.27,361.17 171.4,359.5C173.53,357.83 175.23,355 177.1,353C178.97,351 181.68,348.42 182.6,347.5" stroke-width="1.8"/>
<path d="M155,345.5C154.25,346 151.45,347.37 150.5,348.5C149.55,349.63 149.02,350.88 149.3,352.3C149.58,353.72 150.75,355.75 152.2,357C153.65,358.25 156.03,359.25 158,359.8C159.97,360.35 162.08,360.72 164,360.3C165.92,359.88 167.75,358.77 169.5,357.3C171.25,355.83 172.92,353.33 174.5,351.5C176.08,349.67 178.25,347.17 179,346.3" stroke-width="1.32"/>
<path d="M153,343C154.17,342.7 157.5,341.28 160,341.2C162.5,341.12 165.5,341.78 168,342.5C170.5,343.22 173.83,345 175,345.5" stroke-width="1.32"/>
<path d="M162.8,347L162.8,360" stroke-width="1.32"/>
<path d="M168.6,347L168.6,359.5" stroke-width="1.32"/>
<ellipse cx="165.7" cy="346.4" rx="3" ry="1.7" fill="#333" stroke-width="1.44"/>
<path d="M155.7,347.5L155.7,356.5" stroke-width="1.32"/>
<path d="M152,349.5L152,355" stroke-width="1.2"/>
<path d="M184.9,310.6L184.9,319L191,323L197,318L197,309" stroke-width="1.32"/>
<path d="M184.9,319L178,326" stroke-width="1.2"/>
<ellipse cx="190" cy="315" rx="1.3" ry="1.6" stroke-width="1.2"/>
<path d="M172,331L172,340L180,346" stroke-width="1.2"/>
<path d="M178,326L186,333L186,341" stroke-width="1.2"/>
<path d="M203,292L203,303L208,308" stroke-width="1.2"/>
<path d="M209,288L209,300" stroke-width="1.2"/>
<path d="M214.5,271L214.5,292" stroke-width="1.68"/>
<path d="M221,270L221,291" stroke-width="1.68"/>
<ellipse cx="217.7" cy="270.3" rx="3.3" ry="1.5" stroke-width="1.56"/>
<path d="M224.5,263L224.5,284L230,287L230,264" stroke-width="1.8"/>
<path d="M224.5,265L227,262.5L232,263.5L230,266L224.5,265" stroke-width="1.32"/>
<path d="M233,260L233,280" stroke-width="2.4"/>
<path d="M236,259L240,261.5L240,279" stroke-width="1.8"/>
<path d="M230,276L240,273" stroke-width="1.92"/>
<path d="M226,282L233,286L243,281.5" stroke-width="1.56"/>
<path d="M226,288L236,282L244,282" stroke-width="1.32"/>
<path d="M253.6,243.6L255,265.5" stroke-width="1.68"/>
<path d="M261.6,246L258,264" stroke-width="1.68"/>
<ellipse cx="258.6" cy="241.2" rx="3.2" ry="3.6" stroke-width="1.8"/>
<path d="M267.1,225.7L262.9,243" stroke-width="1.44"/>
<path d="M266,224.5L274,221.5" stroke-width="1.56"/>
<ellipse cx="276" cy="223.6" rx="1.7" ry="2" stroke-width="1.44"/>
<path d="M304.3,232.1L283,244.2L260,258.6" stroke-width="1.32"/>
<path d="M164,366C164,368.33 163.5,374.33 164,380C164.5,385.67 165.33,394 167,400C168.67,406 172.83,413.33 174,416" stroke-width="1.32"/>
<path d="M181,357C180.25,359.33 176.17,366.17 176.5,371C176.83,375.83 180.08,382.83 183,386C185.92,389.17 191.17,388.67 194,390C196.83,391.33 198.5,391.33 200,394C201.5,396.67 203.5,401.67 203,406C202.5,410.33 198,417.67 197,420" stroke-width="1.32"/>
<path d="M129.3,369.5C130.02,369.2 132.05,369.05 133.6,367.7C135.15,366.35 137.12,363.77 138.6,361.4C140.08,359.03 141.85,354.82 142.5,353.5" stroke-width="1.32"/>
<ellipse cx="242.3" cy="398.5" rx="6" ry="4.8" stroke-width="1.44" transform="rotate(25 242.3 398.5)"/>
<path d="M214,426C216.67,424.93 224.83,421.55 230,419.6C235.17,417.65 240.33,415.9 245,414.3C249.67,412.7 255.83,410.72 258,410" stroke-width="1.2"/>
<path d="M261.7,432.3C261.13,427.15 258.58,409.4 258.3,401.4C258.02,393.4 258.88,389.15 260,384.3C261.12,379.45 262.57,375.58 265,372.3C267.43,369.02 270.72,366.37 274.6,364.6C278.48,362.83 283.73,361.98 288.3,361.7C292.87,361.42 297.72,361.7 302,362.9C306.28,364.1 311,368.22 314,368.9C317,369.58 319,367.32 320,367"/>
<path d="M315.7,375.7C316.25,377.13 318.57,380.02 319,384.3C319.43,388.58 319.13,397.28 318.3,401.4C317.47,405.52 316.15,407.13 314,409C311.85,410.87 309.4,411.6 305.4,412.6C301.4,413.6 294.57,414 290,415C285.43,416 281.28,416.87 278,418.6C274.72,420.33 272.15,422.83 270.3,425.4C268.45,427.97 267.87,431.07 266.9,434C265.93,436.93 264.9,441.5 264.5,443" stroke-width="1.44"/>
<path d="M281.4,377.4C284,376.92 291.85,375.07 297,374.5C302.15,373.93 309.42,372.37 312.3,374C315.18,375.63 314.3,379.47 314.3,384.3C314.3,389.13 313.52,399 312.3,403C311.08,407 311.28,406.98 307,408.3C302.72,409.62 292.28,409.47 286.6,410.9C280.92,412.33 276.5,414.77 272.9,416.9C269.3,419.03 266.32,422.57 265,423.7" stroke-width="1.8"/>
<path d="M283,379.8C285.33,379.33 292.58,377.5 297,377C301.42,376.5 307.12,375.47 309.5,376.8C311.88,378.13 311.3,380.88 311.3,385C311.3,389.12 310.47,398.07 309.5,401.5C308.53,404.93 309.42,404.48 305.5,405.6C301.58,406.72 291.58,406.8 286,408.2C280.42,409.6 275.45,412.03 272,414C268.55,415.97 266.42,419 265.3,420" stroke-width="1.56"/>
<path d="M265,423.7C264.45,423.42 262.38,425.72 261.7,422C261.02,418.28 260.47,406.57 260.9,401.4C261.33,396.23 262.62,393.98 264.3,391C265.98,388.02 268.15,385.77 271,383.5C273.85,381.23 279.67,378.42 281.4,377.4" stroke-width="1.8"/>
<path d="M264.2,418C264.1,415.25 263.2,405.75 263.6,401.5C264,397.25 265.12,395.15 266.6,392.5C268.08,389.85 270.6,387.43 272.5,385.6C274.4,383.77 277.08,382.18 278,381.5" stroke-width="1.44"/>
<path d="M278,378.3L279.7,412.6" stroke-width="2.16"/>
<path d="M282.3,378.3L283,411.7" stroke-width="1.32"/>
<path d="M295,375.7L296,384.3L312.3,394.6" stroke-width="1.44"/>
<path d="M262.6,432C262.75,433.17 263.22,437.1 263.5,439C263.78,440.9 264.17,442.67 264.3,443.4" stroke-width="1.32"/>
<path d="M391.52,179.56C392.88,178.53 406.14,170.97 407.9,170.2C409.66,169.43 408.98,168.68 412.64,170.32C416.3,171.96 448.63,187.99 451.8,189.9C454.97,191.81 452.13,192.06 450.7,193.25C449.27,194.44 436.41,203.26 434.64,204.2C432.87,205.14 433.01,206.31 429.42,204.5C425.83,202.69 394.74,184.58 391.58,182.5C388.42,180.42 390.16,180.59 391.52,179.56Z" fill="#fff" stroke-width="1.56"/>
<path d="M394.87,180.6L432.84,202.19" stroke-width="1.2"/>
<path d="M396.68,179.55L434.73,200.91" stroke-width="1.2"/>
<path d="M398.49,178.5L436.62,199.64" stroke-width="1.2"/>
<path d="M400.3,177.46L438.5,198.36" stroke-width="1.2"/>
<path d="M402.11,176.41L440.39,197.09" stroke-width="1.2"/>
<path d="M403.92,175.36L442.28,195.82" stroke-width="1.2"/>
<path d="M405.73,174.32L444.16,194.54" stroke-width="1.2"/>
<path d="M407.54,173.27L446.05,193.27" stroke-width="1.2"/>
<path d="M409.35,172.22L447.94,191.99" stroke-width="1.2"/>
<path d="M417.17,195.53L435.77,183.61" stroke-width="1.2"/>
<path d="M403.39,187.6L421.71,176.5" stroke-width="1.2"/>
<path d="M399.6,331.5C399.62,330.61 399.5,329.45 401,328.2C402.5,326.95 427.88,307.64 429.5,306.5C431.12,305.36 433.21,305.23 433.5,305.3C433.79,305.38 435.12,307.17 435.2,308C435.28,308.83 435.28,321.15 435.2,322C435.12,322.85 434.96,323.73 433.5,325C432.04,326.27 407.55,346.31 406,347.5C404.45,348.69 402.77,348.88 402.5,348.8C402.23,348.73 400.64,346.87 400.5,346C400.36,345.13 399.58,332.39 399.6,331.5Z" fill="#fff" stroke-width="1.56"/>
<g transform="translate(409 335.5) rotate(-39) skewX(-8)">
<rect x="-3.2" y="-3" width="6.4" height="6" stroke-width="1.8"/>
<path d="M-3.2,0H3.2M0,-3V3" stroke-width="1.5"/>
</g>
<g transform="translate(418 328) rotate(-39) skewX(-8)">
<rect x="-3.2" y="-3" width="6.4" height="6" stroke-width="1.8"/>
<path d="M-3.2,0H3.2M0,-3V3" stroke-width="1.5"/>
</g>
<g transform="translate(427 320.5) rotate(-39) skewX(-8)">
<rect x="-3.2" y="-3" width="6.4" height="6" stroke-width="1.8"/>
<path d="M-3.2,0H3.2M0,-3V3" stroke-width="1.5"/>
</g>
<path d="M423,332.5L432,325" stroke-width="1.92"/>
<path d="M425.77,345.42C428.44,343.04 461.85,315.47 464.55,313.43C467.25,311.4 465.91,313.41 466.32,314.88C466.73,316.35 470.41,333.9 470.64,335.46C470.86,337.03 472.45,335.75 469.73,338.36C467.01,340.97 432.64,372.3 429.87,374.64C427.11,376.98 428.6,375.18 428.24,373.48C427.88,371.78 424.62,350.99 424.46,349.12C424.3,347.25 423.1,347.8 425.77,345.42Z" fill="#fff" stroke-width="1.56"/>
<path d="M426.51,347.14L464.08,315.91" stroke-width="0.96"/>
<path d="M426.83,349.19L464.45,317.69" stroke-width="0.96"/>
<path d="M427.16,351.25L464.82,319.48" stroke-width="0.96"/>
<path d="M427.48,353.31L465.19,321.27" stroke-width="0.96"/>
<path d="M427.8,355.36L465.56,323.05" stroke-width="0.96"/>
<path d="M428.13,357.42L465.93,324.84" stroke-width="0.96"/>
<path d="M428.45,359.48L466.3,326.62" stroke-width="0.96"/>
<path d="M428.78,361.53L466.67,328.41" stroke-width="0.96"/>
<path d="M429.1,363.59L467.04,330.2" stroke-width="0.96"/>
<path d="M429.42,365.64L467.4,331.98" stroke-width="0.96"/>
<path d="M429.75,367.7L467.77,333.77" stroke-width="0.96"/>
<path d="M430.07,369.76L468.14,335.56" stroke-width="0.96"/>
<path d="M430.4,371.81L468.51,337.34" stroke-width="0.96"/>
<path d="M298.6,441.7L298.6,430.6L303.7,428L326,439L329,443.4L328.6,446L326,463L317.4,466.6" fill="#fff"/>
<path d="M286.6,438.3L282.3,446L282.3,446C285.02,447.15 293.6,450.07 298.6,452.9C303.6,455.73 309.17,460.72 312.3,463C315.43,465.28 316.55,466 317.4,466.6L317.4,466.6L321,461.4L321,461.4C320.73,460.55 321.07,458.3 319.4,456.3C317.73,454.3 314.47,451.68 311,449.4C307.53,447.12 302.67,444.45 298.6,442.6C294.53,440.75 288.6,439.02 286.6,438.3Z" fill="#fff"/>
<path d="M321,461.4L326,458L328.6,446" stroke-width="1.32"/>
<path d="M298.6,442.6C300.67,443.73 307.53,447.12 311,449.4C314.47,451.68 318,455.15 319.4,456.3" stroke-width="1.2"/>
<path d="M303.7,428L303.7,444" stroke-width="1.2"/>
<g stroke="#666">
<path d="M306,431.5L306,446.5" stroke-width="2.16"/>
<path d="M311.5,434L311.5,449.5" stroke-width="2.16"/>
</g>
<path d="M319,442.5L327.5,446L321,453" stroke-width="1.2"/>
<path d="M298.6,430.6L321,441.5L329,443.4" stroke-width="1.2"/>
<path d="M373.5,412.9C375.3,413.7 380.23,416.23 384.3,417.7C388.37,419.17 395.17,420.12 397.9,421.7C400.63,423.28 400.35,424.02 400.7,427.2C401.05,430.38 400.68,436.73 400,440.8C399.32,444.87 397.97,449 396.6,451.6C395.23,454.2 392.6,455.6 391.8,456.4L391.8,456.4C389.43,456.85 382.23,458.08 377.6,459.1C372.97,460.12 367.97,460.8 364,462.5C360.03,464.2 356.52,466.82 353.8,469.3C351.08,471.78 348.83,474.57 347.7,477.4C346.57,480.23 347.12,484.82 347,486.3L347,486.3L338.2,478.8L338.2,478.8C337.85,476.53 336.22,469.28 336.1,465.2C335.98,461.12 336.82,457.7 337.5,454.3C338.18,450.9 339.18,447.73 340.2,444.8C341.22,441.87 341.9,439.42 343.6,436.7C345.3,433.98 348.25,431 350.4,428.5C352.55,426 354.23,423.62 356.5,421.7C358.77,419.78 361.17,418.47 364,417C366.83,415.53 371.92,413.58 373.5,412.9Z" fill="#fff"/>
<path d="M341.5,481C341.18,478.5 339.68,470.33 339.6,466C339.52,461.67 340.27,458.42 341,455C341.73,451.58 342.92,448.33 344,445.5C345.08,442.67 345.83,440.58 347.5,438C349.17,435.42 351.92,432.33 354,430C356.08,427.67 359,425 360,424" stroke-width="1.32"/>
<path d="M345,484C344.72,481.33 343.37,472.42 343.3,468C343.23,463.58 343.9,460.83 344.6,457.5C345.3,454.17 346.43,450.83 347.5,448C348.57,445.17 350.42,441.75 351,440.5" stroke-width="1.2"/>
<path d="M338.8,452L342.3,447.5L345.3,484L341,480.5Z" fill="#2a2a2a" stroke-width="0.6"/>
<ellipse cx="389.8" cy="425.8" rx="4.3" ry="2.9" stroke-width="1.56" transform="rotate(-8 389.8 425.8)"/>
<ellipse cx="385" cy="451" rx="4.3" ry="2.9" stroke-width="1.56" transform="rotate(-8 385 451)"/>
<ellipse cx="372.8" cy="430.6" rx="3" ry="2.3" stroke-width="1.44" transform="rotate(-8 372.8 430.6)"/>
<text x="391.3" y="436.4" style="font-size:5px">L</text>
<text x="385" y="446.8" style="font-size:5px">LA</text>
<path d="M356.5,421.7C356.83,421.33 357.67,419.82 358.5,419.5C359.33,419.18 361,419.75 361.5,419.8" stroke-width="1.32"/>
<path d="M364,417C364.83,417.08 367.5,417.75 369,417.5C370.5,417.25 372.33,415.83 373,415.5" stroke-width="1.2"/>
<path d="M344.2,438.3C345.48,437.3 348.83,433.43 351.9,432.3C354.97,431.17 360.82,431.63 362.6,431.5" stroke-width="1.92"/>
<path d="M344.8,440.9C346.05,439.9 349.33,436 352.3,434.9C355.27,433.8 360.88,434.4 362.6,434.3" stroke-width="1.08"/>
<path d="M344.55,443.7C345.8,442.8 349.07,439.23 352.08,438.3C355.08,437.37 360.85,438.13 362.6,438.1" stroke-width="1.92"/>
<path d="M345.15,446.3C346.37,445.4 349.57,441.8 352.48,440.9C355.38,440 360.91,440.9 362.6,440.9" stroke-width="1.08"/>
<path d="M344.9,449.1C346.12,448.3 349.3,445.03 352.25,444.3C355.2,443.57 360.88,444.63 362.6,444.7" stroke-width="1.92"/>
<path d="M345.5,451.7C346.69,450.9 349.8,447.6 352.65,446.9C355.5,446.2 360.94,447.4 362.6,447.5" stroke-width="1.08"/>
<path d="M345.25,454.5C346.45,453.8 349.53,450.83 352.43,450.3C355.32,449.77 360.9,451.13 362.6,451.3" stroke-width="1.92"/>
<path d="M345.85,457.1C347.01,456.4 350.03,453.4 352.82,452.9C355.62,452.4 360.97,453.9 362.6,454.1" stroke-width="1.08"/>
<path d="M345.6,459.9C346.77,459.3 349.77,456.63 352.6,456.3C355.43,455.97 360.93,457.63 362.6,457.9" stroke-width="1.92"/>
<path d="M346.2,462.5C347.33,461.9 350.27,459.2 353,458.9C355.73,458.6 361,460.4 362.6,460.7" stroke-width="1.08"/>
<path d="M362.6,430.5L362.6,461" stroke-width="1.44"/>
<path d="M368,438L368,460" stroke-width="1.32"/>
<path d="M377.5,438.5L377.5,458" stroke-width="1.32"/>
<path d="M362.6,438.3L377.5,437.5" stroke-width="1.56"/>
<path d="M362.6,444.9L377.5,444.1" stroke-width="1.56"/>
<path d="M362.6,451.5L377.5,450.7" stroke-width="1.56"/>
<path d="M362.6,458.1L377.5,457.3" stroke-width="1.56"/>
<path d="M372.8,433.5L372.8,438" stroke-width="1.92"/>
<path d="M371,436L375,436" stroke-width="1.44"/>
<path d="M347.7,477.4C348.42,475.83 349.52,470.65 352,468C354.48,465.35 358.35,463.17 362.6,461.5C366.85,459.83 375.02,458.58 377.5,458" stroke-width="1.32"/>
<path d="M622.8,415.5L634.9,407.5L639.8,409.4L633.7,421.5" fill="#fff" stroke-width="1.56"/>
<path d="M634.9,407.5L631,418.5" stroke-width="1.32"/>
<path d="M611.4,414.3L669.5,445L696.4,540.6L692,544.5L636,511.6Z" fill="#fff" stroke-width="1.8"/>
<path d="M613.8,418L667.5,446.8L693.3,539.5L638,508.3Z" stroke-width="1.32"/>
<path d="M616.5,422.5L665,448.8L690.3,535.5L640.2,505.8Z" stroke-width="1.8"/>
<path d="M623.3,450L672,476.6" stroke-width="1.8"/>
<path d="M624.3,453.5L672.9,480" stroke-width="1.8"/>
<path d="M630.6,480.6L679.3,505" stroke-width="1.8"/>
<path d="M631.6,484.2L680.2,508.5" stroke-width="1.8"/>
<path d="M611.4,414.3L609.8,416.5L634.5,513.5L636,511.6" stroke-width="1.2"/>
<path d="M634.5,513.5L690.5,547L692,544.5" stroke-width="1.2"/>
<path d="M521,466C520.77,463.67 519.52,455.83 519.6,452C519.68,448.17 520,445.42 521.5,443C523,440.58 525.52,438.5 528.6,437.5C531.68,436.5 538.1,437.08 540,437L540,437L620,481.5L623.5,487L645.5,584L640,593L634,590L634,590L631,588.5L627.7,594.7L609,609L555,574L555,574C553.67,570 549.55,557.83 547,550C544.45,542.17 542.77,536.33 539.7,527C536.63,517.67 531.72,504.17 528.6,494C525.48,483.83 522.27,470.67 521,466Z" fill="#fff"/>
<path d="M536,440.5L617,484.5L619.5,488.5L641,586" stroke-width="1.32"/>
<path d="M532,443.5L614,487.5L616,491.5L637,588" stroke-width="1.32"/>
<path d="M524.5,466C524.33,464 523.33,457.33 523.5,454C523.67,450.67 524.25,448.08 525.5,446C526.75,443.92 528.75,442.33 531,441.5C533.25,440.67 537.67,441.08 539,441" stroke-width="1.32"/>
<path d="M528.5,466C529.08,468.67 530.42,476.33 532,482C533.58,487.67 537,497 538,500" stroke-width="1.32"/>
<path d="M534,446.5C533.75,447.92 532.58,451.75 532.5,455C532.42,458.25 533.33,464.17 533.5,466" stroke-width="1.2"/>
<path d="M550,455.7L605.7,491L631,588.5" stroke-width="1.32"/>
<path d="M585.5,510L605.7,491" stroke-width="1.32"/>
<path d="M585.5,510L609,609" stroke-width="1.32"/>
<path d="M529.5,477L550,455.7" stroke-width="1.32"/>
<path d="M550,455.7L529.5,477L555,574" stroke-width="1.2"/>
<path d="M553.09,457.66L532.61,478.83L558,575.94" stroke-width="1.2"/>
<path d="M556.19,459.62L535.72,480.67L561,577.89" stroke-width="1.2"/>
<path d="M559.28,461.58L538.83,482.5L564,579.83" stroke-width="1.2"/>
<path d="M562.38,463.54L541.94,484.33L567,581.78" stroke-width="1.2"/>
<path d="M565.47,465.51L545.06,486.17L570,583.72" stroke-width="1.2"/>
<path d="M568.57,467.47L548.17,488L573,585.67" stroke-width="1.2"/>
<path d="M571.66,469.43L551.28,489.83L576,587.61" stroke-width="1.2"/>
<path d="M574.76,471.39L554.39,491.67L579,589.56" stroke-width="1.2"/>
<path d="M577.85,473.35L557.5,493.5L582,591.5" stroke-width="1.2"/>
<path d="M580.94,475.31L560.61,495.33L585,593.44" stroke-width="1.2"/>
<path d="M584.04,477.27L563.72,497.17L588,595.39" stroke-width="1.2"/>
<path d="M587.13,479.23L566.83,499L591,597.33" stroke-width="1.2"/>
<path d="M590.23,481.19L569.94,500.83L594,599.28" stroke-width="1.2"/>
<path d="M593.32,483.16L573.06,502.67L597,601.22" stroke-width="1.2"/>
<path d="M596.42,485.12L576.17,504.5L600,603.17" stroke-width="1.2"/>
<path d="M599.51,487.08L579.28,506.33L603,605.11" stroke-width="1.2"/>
<path d="M602.61,489.04L582.39,508.17L606,607.06" stroke-width="1.2"/>
<path d="M605.7,491L585.5,510L609,609" stroke-width="1.2"/>
<path d="M555,574L557.3,573.37L558,575.94L560.3,575.32L561,577.89L563.3,577.26L564,579.83L566.3,579.21L567,581.78L569.3,581.15L570,583.72L572.3,583.09L573,585.67L575.3,585.04L576,587.61L578.3,586.98L579,589.56L581.3,588.93L582,591.5L584.3,590.87L585,593.44L587.3,592.82L588,595.39L590.3,594.76L591,597.33L593.3,596.71L594,599.28L596.3,598.65L597,601.22L599.3,600.59L600,603.17L602.3,602.54L603,605.11L605.3,604.48L606,607.06L608.3,606.43L609,609" stroke-width="1.08"/>
<path d="M438.2,523.9L457.5,511.5L470.4,518.6L508.9,533.6L512,543L525,551.8L540,559.3L543.2,565.7L548.6,582.9L555,585L557.1,589.3L551.8,593.6L520,600L440,545Z" fill="#fff" stroke-width="1.44"/>
<path d="M457.7,511.5L438.2,523.9" stroke-width="1.56"/>
<path d="M470,517.8L450,537.9" stroke-width="1.56"/>
<ellipse cx="463.9" cy="513.6" rx="6.3" ry="4.6" fill="#fff" stroke-width="1.56" transform="rotate(28 463.9 513.6)"/>
<path d="M441,522.5C442.17,522 446.17,520.83 448,519.5C449.83,518.17 451.33,515.33 452,514.5" stroke-width="1.2"/>
<path d="M450,537.9L477.9,552.9" stroke-width="1.44"/>
<path d="M477.9,552.9L503.6,536.8" stroke-width="1.44"/>
<path d="M480.5,554L505.5,538.5" stroke-width="1.32"/>
<path d="M501.4,535.7L508.9,533.6L507.9,537.9L490.7,557.1" stroke-width="1.56"/>
<path d="M512.3,542.7L499.3,557.1" stroke-width="1.56"/>
<path d="M524.8,551.5L516.4,560" stroke-width="1.56"/>
<ellipse cx="518.6" cy="546" rx="6.3" ry="4.6" fill="#fff" stroke-width="1.56" transform="rotate(28 518.6 546)"/>
<path d="M540,559.3L529.3,572.1" stroke-width="1.44"/>
<path d="M524.8,551.5L521,561" stroke-width="1.2"/>
<path d="M543.2,565.7L536,574" stroke-width="1.2"/>
<path d="M421.5,513.5C422,513.18 423.33,511.77 424.5,511.6C425.67,511.43 427.25,511.6 428.5,512.5C429.75,513.4 430.92,514.58 432,517C433.08,519.42 433.17,523.67 435,527C436.83,530.33 437.67,533.33 443,537C448.33,540.67 459,545.5 467,549C475,552.5 483.17,555.67 491,558C498.83,560.33 506.33,559.83 514,563C521.67,566.17 530.77,571.9 537,577C543.23,582.1 547.57,589.05 551.4,593.6C555.23,598.15 557.13,600.38 560,604.3C562.87,608.22 565.85,612.82 568.6,617.1C571.35,621.38 574.1,625.95 576.5,630C578.9,634.05 580.9,637.22 583,641.4C585.1,645.58 587.5,650.9 589.1,655.1C590.7,659.3 592.02,664.68 592.6,666.6L592.6,666.6C592.6,666.82 593.37,666.95 592.6,667.9C591.83,668.85 591.05,670.23 588,672.3C584.95,674.37 579.63,677.37 574.3,680.3C568.97,683.23 561.72,687.92 556,689.9C550.28,691.88 545.33,692.35 540,692.2C534.67,692.05 529.72,690.98 524,689C518.28,687.02 512.08,683.58 505.7,680.3C499.32,677.02 491.42,672.45 485.7,669.3C479.98,666.15 476.17,664.02 471.4,661.4C466.63,658.78 461.85,656.57 457.1,653.6C452.35,650.63 446.47,646.22 442.9,643.6C439.33,640.98 438.08,640.17 435.7,637.9C433.32,635.63 430.98,633.22 428.6,630C426.22,626.78 423.32,622.17 421.4,618.6C419.48,615.03 418.17,611.7 417.1,608.6C416.03,605.5 415.77,603.1 415,600C414.23,596.9 413.33,594.17 412.5,590C411.67,585.83 410.65,580.5 410,575C409.35,569.5 408.87,561 408.6,557C408.33,553 408.43,552 408.4,551L408.4,551C408.43,549.5 407.72,546.33 408.6,542C409.48,537.67 411.55,529.75 413.7,525C415.85,520.25 420.2,515.42 421.5,513.5Z" fill="#fff"/>
<path d="M426.5,513C427,514.33 428.5,518.08 429.5,521C430.5,523.92 430.58,527.33 432.5,530.5C434.42,533.67 435.42,536.42 441,540C446.58,543.58 457.83,548.5 466,552C474.17,555.5 482.17,558.58 490,561C497.83,563.42 505.67,563.42 513,566.5C520.33,569.58 530.5,577.33 534,579.5" stroke-width="1.32"/>
<path d="M427.4,539.5C427.97,540.42 430.28,543.17 430.8,545C431.32,546.83 431.07,549.25 430.5,550.5C429.93,551.75 428.43,552.5 427.4,552.5C426.37,552.5 424.87,551.75 424.3,550.5C423.73,549.25 423.48,546.83 424,545C424.52,543.17 426.83,540.42 427.4,539.5" stroke-width="1.44"/>
<ellipse cx="482" cy="577.6" rx="5.8" ry="6.2" stroke-width="1.44" transform="rotate(20 482 577.6)"/>
<path d="M409.7,554.4C414.15,557.03 428.02,564.93 436.4,570.2C444.78,575.47 452.73,581.27 460,586C467.27,590.73 474.28,595.55 480,598.6C485.72,601.65 489.53,602.88 494.3,604.3C499.07,605.72 503.83,606.98 508.6,607.1C513.37,607.22 519.45,605.42 522.9,605C526.35,604.58 527.97,604.33 529.3,604.6C530.63,604.87 531.02,605.82 530.9,606.6C530.78,607.38 530.42,607.9 528.6,609.3C526.78,610.7 523.33,613.57 520,615C516.67,616.43 512.88,617.78 508.6,617.9C504.32,618.02 499.07,617.02 494.3,615.7C489.53,614.38 485.72,613.03 480,610C474.28,606.97 467.27,602.3 460,597.5C452.73,592.7 444.78,587.07 436.4,581.2C428.02,575.33 414.15,565.45 409.7,562.3" stroke-width="1.5"/>
<path d="M410.5,571C414.82,574.13 428.15,583.88 436.4,589.8C444.65,595.72 452.73,601.35 460,606.5C467.27,611.65 474.28,617.27 480,620.7C485.72,624.13 489.53,625.55 494.3,627.1C499.07,628.65 503.83,630 508.6,630C513.37,630 518.15,628.1 522.9,627.1C527.65,626.1 534.33,624.2 537.1,624C539.87,623.8 539.97,624.9 539.5,625.9C539.03,626.9 537.07,628.25 534.3,630C531.53,631.75 527.18,634.97 522.9,636.4C518.62,637.83 513.37,638.83 508.6,638.6C503.83,638.37 499.07,636.67 494.3,635C489.53,633.33 485.72,631.68 480,628.6C474.28,625.52 467.27,621 460,616.5C452.73,612 444.52,607.62 436.4,601.6C428.28,595.58 415.48,583.93 411.3,580.4" stroke-width="1.5"/>
<path d="M412,589C416.07,592.42 428.4,603.33 436.4,609.5C444.4,615.67 452.73,621.03 460,626C467.27,630.97 474.28,635.9 480,639.3C485.72,642.7 489.53,644.62 494.3,646.4C499.07,648.18 503.83,649.63 508.6,650C513.37,650.37 518.15,649.43 522.9,648.6C527.65,647.77 533.53,645.83 537.1,645C540.67,644.17 542.83,643.5 544.3,643.6C545.77,643.7 546.62,644.42 545.9,645.6C545.18,646.78 542.88,648.9 540,650.7C537.12,652.5 532.65,655.08 528.6,656.4C524.55,657.72 520.23,658.72 515.7,658.6C511.17,658.48 506.17,657.13 501.4,655.7C496.63,654.27 490.67,651.55 487.1,650C483.53,648.45 484.52,648.98 480,646.4C475.48,643.82 467.27,638.82 460,634.5C452.73,630.18 443.87,626.12 436.4,620.5C428.93,614.88 418.73,604.08 415.2,600.8" stroke-width="1.5"/>
<path d="M416,608C419.4,611.65 429.07,623.82 436.4,629.9C443.73,635.98 452.73,640.2 460,644.5C467.27,648.8 474.28,652.63 480,655.7C485.72,658.77 489.53,660.87 494.3,662.9C499.07,664.93 503.83,667.07 508.6,667.9C513.37,668.73 518.15,668.38 522.9,667.9C527.65,667.42 533.07,665.88 537.1,665C541.13,664.12 544.92,662.68 547.1,662.6C549.28,662.52 550.67,663.27 550.2,664.5C549.73,665.73 547.18,668.25 544.3,670C541.42,671.75 536.95,673.82 532.9,675C528.85,676.18 524.53,677.22 520,677.1C515.47,676.98 510.47,675.83 505.7,674.3C500.93,672.77 495.68,669.93 491.4,667.9C487.12,665.87 485.23,665 480,662.1C474.77,659.2 466.67,653.93 460,650.5C453.33,647.07 443.33,643 440,641.5" stroke-width="1.5"/>
<path d="M470,501.5L473,498L480.5,501L479.5,508.5L475.5,511L470.5,507.5Z" fill="#fff" stroke-width="1.56"/>
<ellipse cx="477.7" cy="504.7" rx="2.6" ry="3.8" stroke-width="1.44" transform="rotate(20 477.7 504.7)"/>
<g transform="rotate(-42 382.5 585.3)">
<ellipse cx="389.5" cy="585.3" rx="0.9" ry="2.3" fill="#fff" stroke-width="1.32"/>
<ellipse cx="392" cy="585.3" rx="0.9" ry="2.3" fill="#fff" stroke-width="1.32"/>
<ellipse cx="394.5" cy="585.3" rx="0.9" ry="2.3" fill="#fff" stroke-width="1.32"/>
<ellipse cx="397" cy="585.3" rx="0.9" ry="2.3" fill="#fff" stroke-width="1.32"/>
<ellipse cx="399.5" cy="585.3" rx="0.9" ry="2.3" fill="#fff" stroke-width="1.32"/>
<ellipse cx="402" cy="585.3" rx="0.9" ry="2.3" fill="#fff" stroke-width="1.32"/>
<ellipse cx="382.5" cy="585.3" rx="5.6" ry="5" fill="#fff" stroke-width="1.8"/>
<ellipse cx="382.5" cy="585.3" rx="2.9" ry="2.5" stroke-width="1.44"/>
</g>
<path d="M149.3,292.3L168.8,303.2" stroke-width="5.76"/>
<path d="M149.3,292.3L168.8,303.2" stroke-width="3.24" stroke="#fff"/>
<ellipse cx="168.8" cy="303.2" rx="1.4" ry="2.2" stroke-width="1.2" transform="rotate(30 168.8 303.2)"/>
<path d="M31.86,434.23C35.58,431.85 83.73,404.4 87.89,402.27C92.05,400.15 92.1,401.35 94.28,402.32C96.45,403.3 118.71,415.71 120.47,416.93C122.24,418.14 124.35,418.14 120.69,420.56C117.03,422.98 69.67,451.02 65.56,453.19C61.46,455.36 61.35,454.12 59.12,453.1C56.9,452.08 33.94,439.16 32.12,437.9C30.31,436.64 28.15,436.6 31.86,434.23Z" fill="#fff" stroke-width="1.56"/>
<path d="M84,409L104,410L90,419Z" stroke-width="1.56"/>
<path d="M90.17,413.17L95.17,412.37" stroke-width="2.16"/>
<path d="M40,434L60,435L46,444Z" stroke-width="1.56"/>
<path d="M46.17,438.17L51.17,437.37" stroke-width="2.16"/>
<path d="M86,425L106,427.5L91,436Z" stroke-width="1.56"/>
<path d="M91.83,430L96.83,429.2" stroke-width="2.16"/>
<path d="M56,442.5L75,445L61,454Z" stroke-width="1.56"/>
<path d="M61.5,447.67L66.5,446.87" stroke-width="2.16"/>
<ellipse cx="76" cy="419" rx="9.5" ry="5.6" stroke-width="2.4" transform="rotate(-8 76 419)"/>
<ellipse cx="76" cy="419" rx="5" ry="2.5" stroke-width="1.68" transform="rotate(-8 76 419)"/>
<ellipse cx="60" cy="427" rx="9.5" ry="5.6" stroke-width="1.92" transform="rotate(-8 60 427)"/>
<path d="M55,426L65,428" stroke-width="1.68"/>
<ellipse cx="76" cy="436" rx="9.5" ry="5.6" stroke-width="1.92" transform="rotate(-8 76 436)"/>
<ellipse cx="76" cy="436" rx="5.5" ry="3" fill="#333" stroke-width="1.2" transform="rotate(-8 76 436)"/>
<path d="M105,458.5C106.73,457.22 129.07,442.93 131,441.8C132.93,440.67 133.72,441.35 134,441.5C134.28,441.65 135.05,442.23 135.2,444C135.35,445.77 136.21,466.2 136.2,468C136.19,469.8 135.81,470.37 135,471C134.19,471.63 124.93,477.07 124,477.5C123.07,477.93 122.27,478.6 121,477.5C119.73,476.4 106.07,462.27 105,461C103.93,459.73 103.27,459.78 105,458.5Z" fill="#fff" stroke-width="1.56"/>
<path d="M111.2,457L114.8,455" stroke-width="2.64"/>
<path d="M115.2,460L118.8,458" stroke-width="1.92"/>
<path d="M119.2,454L122.8,452" stroke-width="2.4"/>
<path d="M121.7,450.5L125.3,448.5" stroke-width="1.68"/>
<path d="M118.2,464L121.8,462" stroke-width="2.88"/>
<path d="M122.2,467L125.8,465" stroke-width="2.16"/>
<path d="M126.2,462L129.8,460" stroke-width="2.64"/>
<path d="M129.2,459L132.8,457" stroke-width="1.92"/>
<path d="M127.2,468L130.8,466" stroke-width="2.4"/>
<path d="M123.2,472L126.8,470" stroke-width="1.92"/>
<path d="M113.2,463L116.8,461" stroke-width="1.92"/>
<path d="M124.2,457L127.8,455" stroke-width="1.68"/>
<g stroke-dasharray="3.2 2.4" stroke-width="1.2" stroke-linecap="butt">
<path d="M110,407.5L216,366.5"/>
<path d="M137.5,454C140.42,453.33 146.92,451.23 155,450C163.08,448.77 176.83,447.38 186,446.6C195.17,445.82 203.33,445.82 210,445.3C216.67,444.78 221.23,444.5 226,443.5C230.77,442.5 235.68,440.33 238.6,439.3C241.52,438.27 242.68,437.63 243.5,437.3"/>
</g>
<path d="M220.3,364.6L215.2,364.4L216.8,368.4Z" fill="#151515" stroke-width="0.96"/>
<path d="M247.6,435.6L242.6,435.4L244,439.6Z" fill="#151515" stroke-width="0.96"/>
<g stroke-width="1.35">
<path d="M102,43L118,51"/>
<path d="M45,75L60,83"/>
<path d="M305,21L317,28"/>
<path d="M266,37L280,45"/>
<path d="M231,63.6L246,72"/>
<path d="M200.5,117.8L213.4,124.6"/>
<path d="M385,65L401,74"/>
<path d="M346.5,126L334,132"/>
<path d="M347.5,152L333.5,158.6"/>
<path d="M452,169L436,178"/>
<path d="M140,189L152.6,182.5"/>
<path d="M175.5,210L188,203.5"/>
<path d="M241.7,205L264.6,194.5"/>
<path d="M412,269L441,285"/>
<path d="M172,289L162,294"/>
<path d="M127,320L140,313"/>
<path d="M390,348.6L398.6,343"/>
<path d="M413,371.5L423,366"/>
<path d="M418.6,425.5L403,434"/>
<path d="M544,404L613,443"/>
<path d="M485.7,453L517,470"/>
<path d="M449.7,487L472,500"/>
<path d="M386,542L407,553"/>
<path d="M360,564.6L381,576.6"/>
<path d="M24.5,459.5L41,449.5"/>
<path d="M92,480.5L109,472"/>
<path d="M212.5,95L234.9,106.2L254.6,105"/>
<path d="M327,114.6L315,121.4L306.8,137"/>
<path d="M366,394L350,404L320,433"/>
</g>
<text x="85" y="40.9">14</text>
<text x="27" y="73.9">15</text>
<text x="287.3" y="20.2">29</text>
<text x="249" y="36.9">28</text>
<text x="215" y="62.9">18</text>
<text x="196" y="93.9">17</text>
<text x="183" y="116.9">13</text>
<text x="405" y="78.9">16</text>
<text x="327" y="113.9">19</text>
<text x="348" y="124.4">15</text>
<text x="349.5" y="151.4">20</text>
<text x="456" y="167.4">31,32</text>
<text x="121" y="195.9">12</text>
<text x="157" y="216.4">10</text>
<text x="222" y="213.4">25</text>
<text x="446.5" y="292.4">6</text>
<text x="174.3" y="287.8">11</text>
<text x="109" y="326.4">27</text>
<text x="373.5" y="354.9">30</text>
<text x="396.5" y="379.9">33</text>
<text x="369" y="393.4">21</text>
<text x="422" y="423.4">26</text>
<text x="536" y="404.4">1</text>
<text x="476" y="452.4">2</text>
<text x="439.5" y="485.4">4</text>
<text x="376" y="540.9">3</text>
<text x="351" y="563.4">5</text>
<text x="14" y="465.9">8</text>
<text x="82" y="486.9">9</text>
</svg>
</body></html>
